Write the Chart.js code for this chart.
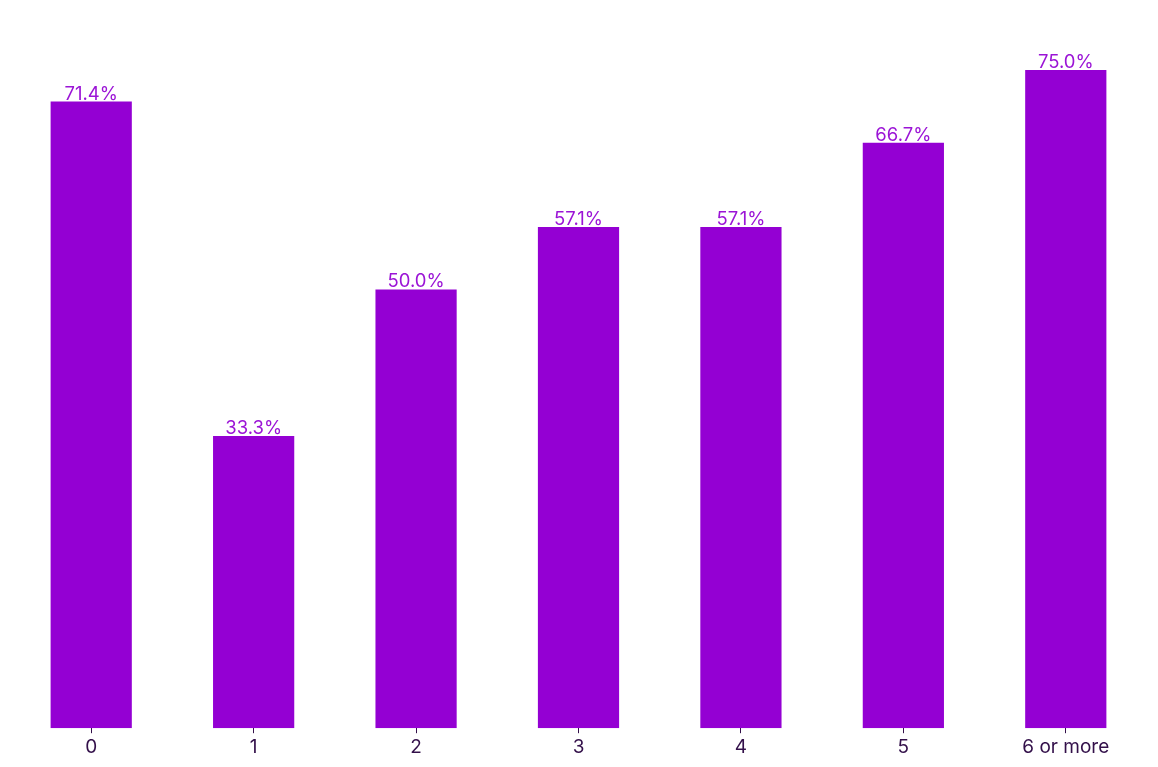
<!DOCTYPE html>
<html>
<head>
<meta charset="utf-8">
<script src="https://cdn.jsdelivr.net/npm/chart.js@4"></script>
<style>
  html, body { margin: 0; padding: 0; background: #fff; }
  #wrap { width: 1158px; height: 767px; }
</style>
</head>
<body>
<div id="wrap"><canvas id="chart"></canvas></div>
<script>
// Chart data
const categories = ['0', '1', '2', '3', '4', '5', '6 or more'];
const shareValues = [71.4, 33.3, 50.0, 57.1, 57.1, 66.7, 75.0];

const BAR_COLOR = '#9400d3';
const LABEL_COLOR = '#9b14d6';
const TICK_COLOR = '#33104a';

// Draws the percentage above each bar
const valueLabels = {
    id: 'valueLabels',
    afterDatasetsDraw(chart) {
        const ctx = chart.ctx;
        const meta = chart.getDatasetMeta(0);
        ctx.save();
        ctx.font = '18.5px Inter';
        ctx.fillStyle = LABEL_COLOR;
        ctx.textAlign = 'center';
        ctx.textBaseline = 'alphabetic';
        meta.data.forEach((bar, i) => {
            ctx.fillText(shareValues[i].toFixed(1) + '%', bar.x, bar.y - 2);
        });
        ctx.restore();
    }
};

new Chart(document.getElementById('chart'), {
    type: 'bar',
    data: {
        labels: categories,
        datasets: [{
            data: shareValues,
            backgroundColor: BAR_COLOR,
            categoryPercentage: 1,
            barPercentage: 0.5
        }]
    },
    options: {
        responsive: true,
        maintainAspectRatio: false,
        animation: false,
        layout: { padding: { top: 70, left: 10, right: 11, bottom: 5 } },
        plugins: { legend: { display: false }, tooltip: { enabled: false } },
        scales: {
            x: {
                grid: { display: true, offset: false, drawOnChartArea: false, drawTicks: true, tickLength: 5, color: TICK_COLOR },
                border: { display: false },
                ticks: { color: TICK_COLOR, font: { family: 'Inter', size: 19 }, padding: 3, maxRotation: 0 }
            },
            y: {
                display: false,
                min: 0,
                max: 75
            }
        }
    },
    plugins: [valueLabels]
});
</script>
</body>
</html>
